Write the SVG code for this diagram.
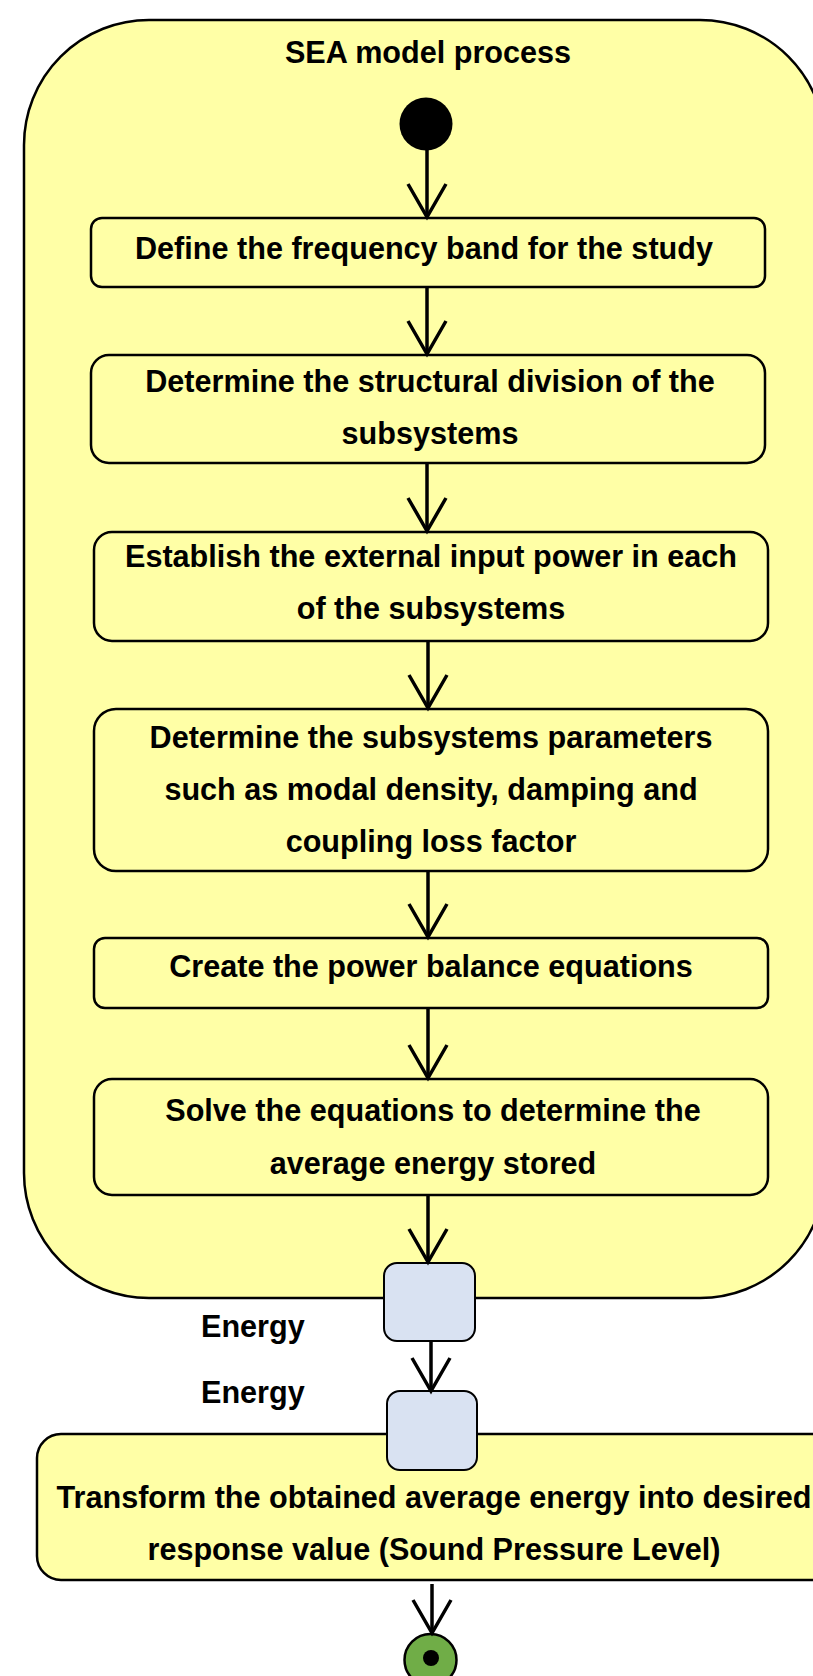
<svg xmlns="http://www.w3.org/2000/svg" width="813" height="1676" viewBox="0 0 813 1676">
<defs>
<style>
.act{fill:#FFFFA6;stroke:#000;stroke-width:2.5}
.pin{fill:#D9E2F2;stroke:#000;stroke-width:2}
.t{font-family:"Liberation Sans",Arial,sans-serif;font-weight:bold;font-size:30.6px;fill:#000;text-anchor:middle}
.l{font-family:"Liberation Sans",Arial,sans-serif;font-weight:bold;font-size:30.6px;fill:#000}
.c{fill:none;stroke:#000;stroke-width:3.5}
</style>
<marker id="arr" markerUnits="userSpaceOnUse" markerWidth="80" markerHeight="80" refX="0" refY="0" orient="auto" viewBox="-40 -40 80 80" overflow="visible">
<path d="M-33,-19 L0,0 L-33,19" fill="none" stroke="#000" stroke-width="3.5"/>
</marker>
</defs>
<rect width="813" height="1676" fill="#fff"/>
<g id="container">
<rect x="24" y="20" width="801" height="1278" rx="125" ry="125" fill="#FFFFA6" stroke="#000" stroke-width="2.5"/>
<text class="t" x="428" y="63">SEA model process</text>
</g>
<g id="start"><circle cx="426" cy="124" r="26.5" fill="#000"/></g>
<g id="n1"><rect class="act" x="91" y="218" width="674" height="69" rx="11"/>
<text class="t" x="424" y="259">Define the frequency band for the study</text></g>
<g id="n2"><rect class="act" x="91" y="355" width="674" height="108" rx="18"/>
<text class="t" x="430" y="392">Determine the structural division of the</text>
<text class="t" x="430" y="444">subsystems</text></g>
<g id="n3"><rect class="act" x="94" y="532" width="674" height="109" rx="18"/>
<text class="t" x="431" y="567">Establish the external input power in each</text>
<text class="t" x="431" y="619">of the subsystems</text></g>
<g id="n4"><rect class="act" x="94" y="709" width="674" height="162" rx="22"/>
<text class="t" x="431" y="748">Determine the subsystems parameters</text>
<text class="t" x="431" y="800">such as modal density, damping and</text>
<text class="t" x="431" y="852">coupling loss factor</text></g>
<g id="n5"><rect class="act" x="94" y="938" width="674" height="70" rx="11"/>
<text class="t" x="431" y="977">Create the power balance equations</text></g>
<g id="n6"><rect class="act" x="94" y="1079" width="674" height="116" rx="18"/>
<text class="t" x="433" y="1121">Solve the equations to determine the</text>
<text class="t" x="433" y="1174">average energy stored</text></g>
<g id="n7"><rect class="act" x="37" y="1434" width="800" height="146" rx="24"/>
<text class="t" x="434" y="1508">Transform the obtained average energy into desired</text>
<text class="t" x="434" y="1560">response value (Sound Pressure Level)</text></g>
<g id="pin1"><rect class="pin" x="384" y="1263" width="91" height="78" rx="13"/>
<text class="l" x="201" y="1337">Energy</text></g>
<g id="pin2"><rect class="pin" x="387" y="1391" width="90" height="79" rx="13"/>
<text class="l" x="201" y="1403">Energy</text></g>
<g id="end"><circle cx="430.5" cy="1660" r="26" fill="#70AD47" stroke="#000" stroke-width="2.5"/>
<circle cx="431" cy="1658" r="8" fill="#000"/></g>
<g id="connectors">
<line class="c" x1="427" y1="150" x2="427" y2="217" marker-end="url(#arr)"/>
<line class="c" x1="427" y1="287" x2="427" y2="354" marker-end="url(#arr)"/>
<line class="c" x1="427" y1="463" x2="427" y2="531" marker-end="url(#arr)"/>
<line class="c" x1="428" y1="641" x2="428" y2="708" marker-end="url(#arr)"/>
<line class="c" x1="428" y1="871" x2="428" y2="937" marker-end="url(#arr)"/>
<line class="c" x1="428" y1="1008" x2="428" y2="1078" marker-end="url(#arr)"/>
<line class="c" x1="428" y1="1195" x2="428" y2="1262" marker-end="url(#arr)"/>
<line class="c" x1="431" y1="1341" x2="431" y2="1391" marker-end="url(#arr)"/>
<line class="c" x1="432" y1="1584" x2="432" y2="1633" marker-end="url(#arr)"/>
</g>
</svg>
